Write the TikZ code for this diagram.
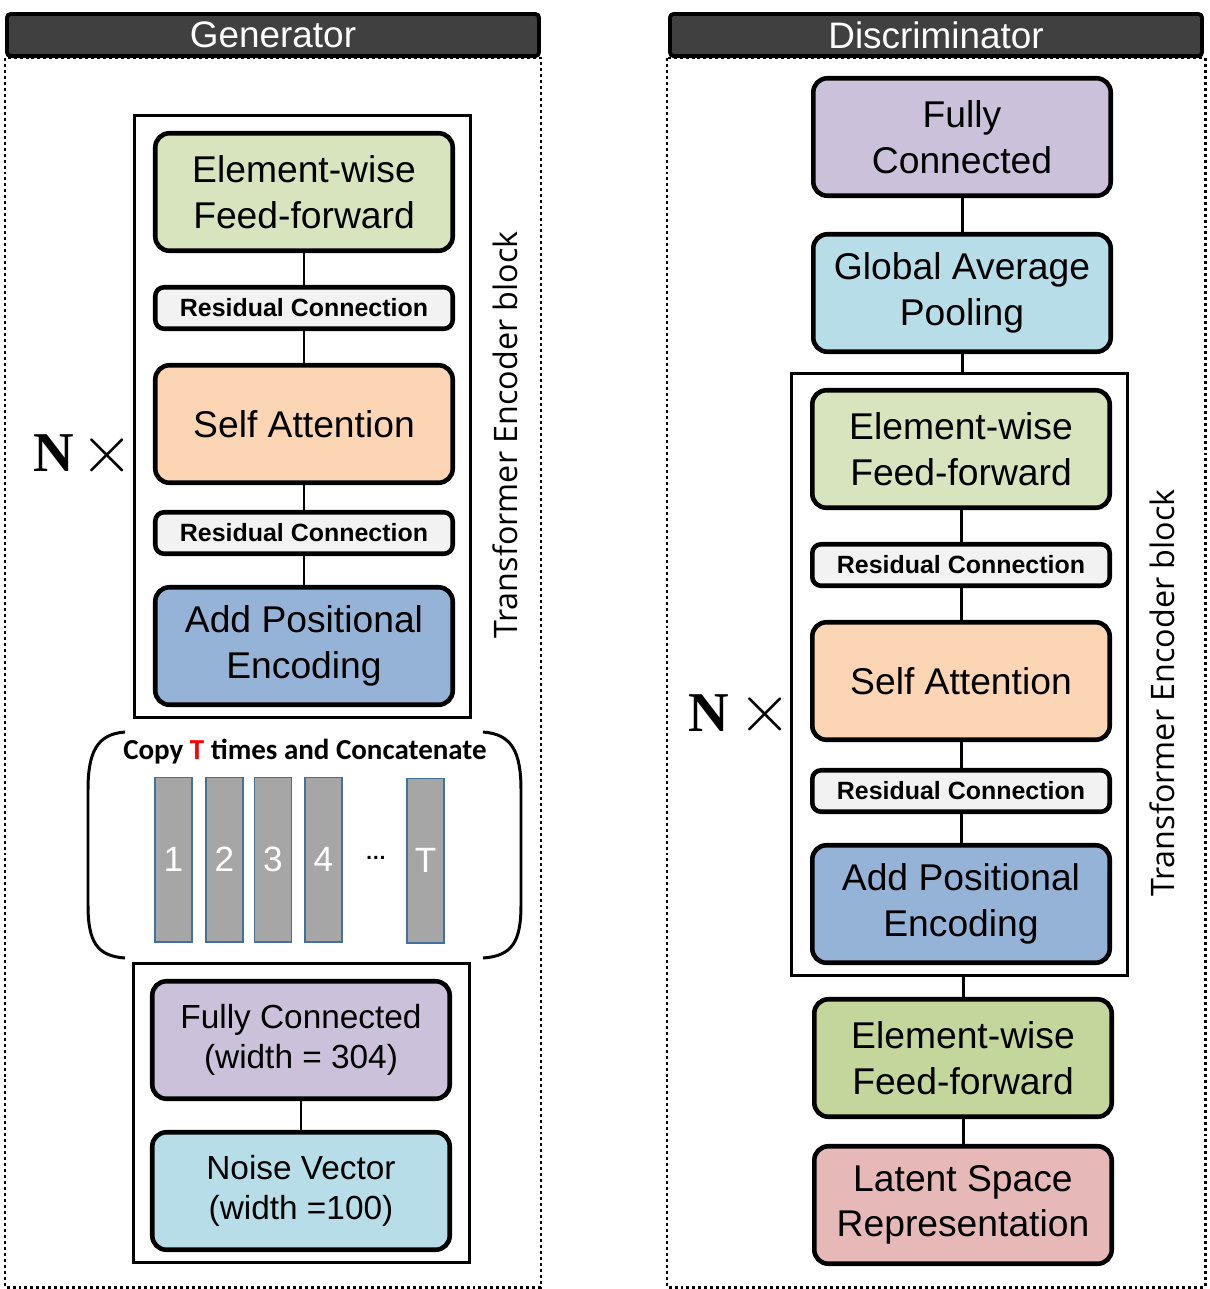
\documentclass[tikz,border=0pt]{standalone}
\usepackage{fontspec}
\setmainfont{Liberation Sans}
\newfontfamily\calibrifont{Carlito}
\newfontfamily\sidefont{Open Sans}
\newfontfamily\serifont{Liberation Serif}
\definecolor{ffgreen}{HTML}{D7E4BD}
\definecolor{ffdark}{HTML}{C3D69B}
\definecolor{attpeach}{HTML}{FCD5B5}
\definecolor{posblue}{HTML}{95B3D7}
\definecolor{fcpurple}{HTML}{CCC1DA}
\definecolor{noisecyan}{HTML}{B7DEE8}
\definecolor{latpink}{HTML}{E6B9B8}
\definecolor{resgray}{HTML}{F2F2F2}
\definecolor{hdrgray}{HTML}{404040}
\definecolor{bargray}{HTML}{A6A6A6}
\definecolor{barblue}{HTML}{41719C}

\begin{document}
\begin{tikzpicture}[
    x=0.02cm, y=-0.02cm,
    layer/.style={draw, line width=2.6pt, rounded corners=8pt, minimum width=5.95cm, minimum height=2.35cm, align=center, font=\fontsize{21.2}{26}\selectfont},
    small layer/.style={layer, font=\fontsize{19}{22.7}\selectfont},
    resid/.style={layer, fill=resgray, rounded corners=5pt, minimum height=0.83cm, font=\bfseries\fontsize{14.2}{16}\selectfont},
    encbox/.style={draw, line width=1.7pt, minimum width=6.72cm},
    header/.style={draw, fill=hdrgray, line width=2.2pt, rounded corners=2pt, minimum width=10.64cm, minimum height=0.84cm, text=white, font=\fontsize{21}{21}\selectfont},
    panel/.style={line width=1.7pt, dash pattern=on 1.7pt off 1.7pt},
    bar/.style={draw=barblue, fill=bargray, line width=0.6pt, minimum width=0.74cm, minimum height=3.3cm, text=white, font=\fontsize{20}{20}\selectfont},
    link/.style={line width=1.7pt},
    sidelabel/.style={rotate=90, font=\sidefont\fontsize{18.4}{18.4}\selectfont},
    nlabel/.style={font=\serifont\bfseries\fontsize{32}{32}\selectfont},
    xlabel/.style={inner sep=0pt}
]
    \useasboundingbox (0,0) rectangle (1210,1289);

    % Paneles punteados y cabeceras
    \draw[panel] (5,58) rectangle (541,1287);
    \draw[panel] (667,58) rectangle (1205,1287);
    \node[header] (ghead) at (273,35) {Generator};
    \node[header] (dhead) at (936,35) {Discriminator};

    % Generador: bloque codificador
    \node[encbox, minimum height=12.04cm] (genc) at (302.5,416.5) {};
    \node[layer, fill=ffgreen] (gff) at (304,192) {Element-wise\\Feed-forward};
    \node[resid] (gres1) at (304,308) {Residual Connection};
    \node[layer, fill=attpeach] (gsa) at (304,424) {Self Attention};
    \node[resid] (gres2) at (304,533) {Residual Connection};
    \node[layer, fill=posblue] (gpe) at (304,646) {Add Positional\\Encoding};
    \draw[link] (gff) -- (gres1);
    \draw[link] (gres1) -- (gsa);
    \draw[link] (gsa) -- (gres2);
    \draw[link] (gres2) -- (gpe);
    \node[sidelabel] (glabel) at (505,435) {Transformer Encoder block};
    \node[nlabel] (gn) at (53.5,453.5) {N};
    \node[xlabel] (gx) at (107,455) {\scalebox{3.9}{$\times$}};

    % Copiar T veces y concatenar
    \draw[link] (125,732) .. controls (97,734) and (88,752) .. (88,790) -- (88,905) .. controls (88,942) and (97,956) .. (125,958);
    \draw[link] (483,732) .. controls (512,734) and (521,752) .. (521,790) -- (521,905) .. controls (521,942) and (512,956) .. (483,958);
    \node (copytitle) at (305,752) {\calibrifont\bfseries\fontsize{16.5}{16.5}\selectfont Copy \textcolor{red}{T} times and Concatenate};
    \node[bar] (bar1) at (173.5,859.5) {1};
    \node[bar] (bar2) at (224.5,859.5) {2};
    \node[bar] (bar3) at (273,859.5) {3};
    \node[bar] (bar4) at (323.5,859.5) {4};
    \node (bardots) at (376,858) {\fontsize{12}{12}\selectfont\textbf{…}};
    \node[bar] (barT) at (425.5,860.5) {T};

    % Generador: entrada
    \node[encbox, minimum height=5.98cm] (gin) at (301.5,1113) {};
    \node[small layer, fill=fcpurple] (gfc) at (301,1040) {Fully Connected\\(width = 304)};
    \node[small layer, fill=noisecyan] (gnoise) at (301,1191) {Noise Vector\\(width =100)};
    \draw[link] (gfc) -- (gnoise);

    % Discriminador
    \node[layer, fill=fcpurple] (dfc) at (962,137) {Fully\\Connected};
    \node[layer, fill=noisecyan] (dgap) at (962,293) {Global Average\\Pooling};
    \node[encbox, minimum height=12.04cm] (denc) at (959.5,674.5) {};
    \node[layer, fill=ffgreen] (dff) at (961,449) {Element-wise\\Feed-forward};
    \node[resid] (dres1) at (961,565) {Residual Connection};
    \node[layer, fill=attpeach] (dsa) at (961,681) {Self Attention};
    \node[resid] (dres2) at (961,791) {Residual Connection};
    \node[layer, fill=posblue] (dpe) at (961,904) {Add Positional\\Encoding};
    \node[layer, fill=ffdark] (dff2) at (963,1058) {Element-wise\\Feed-forward};
    \node[layer, fill=latpink] (dlat) at (963,1205) {Latent Space\\Representation};
    \draw[link] (dfc) -- (dgap);
    \draw[link] (dgap) -- (dgap |- denc.north);
    \draw[link] (dff) -- (dres1);
    \draw[link] (dres1) -- (dsa);
    \draw[link] (dsa) -- (dres2);
    \draw[link] (dres2) -- (dpe);
    \draw[link] (dff2 |- denc.south) -- (dff2);
    \draw[link] (dff2) -- (dlat);
    \node[sidelabel] (dlabel) at (1162,693) {Transformer Encoder block};
    \node[nlabel] (dn) at (709,713) {N};
    \node[xlabel] (dx) at (765,714) {\scalebox{3.9}{$\times$}};
\end{tikzpicture}
\end{document}
